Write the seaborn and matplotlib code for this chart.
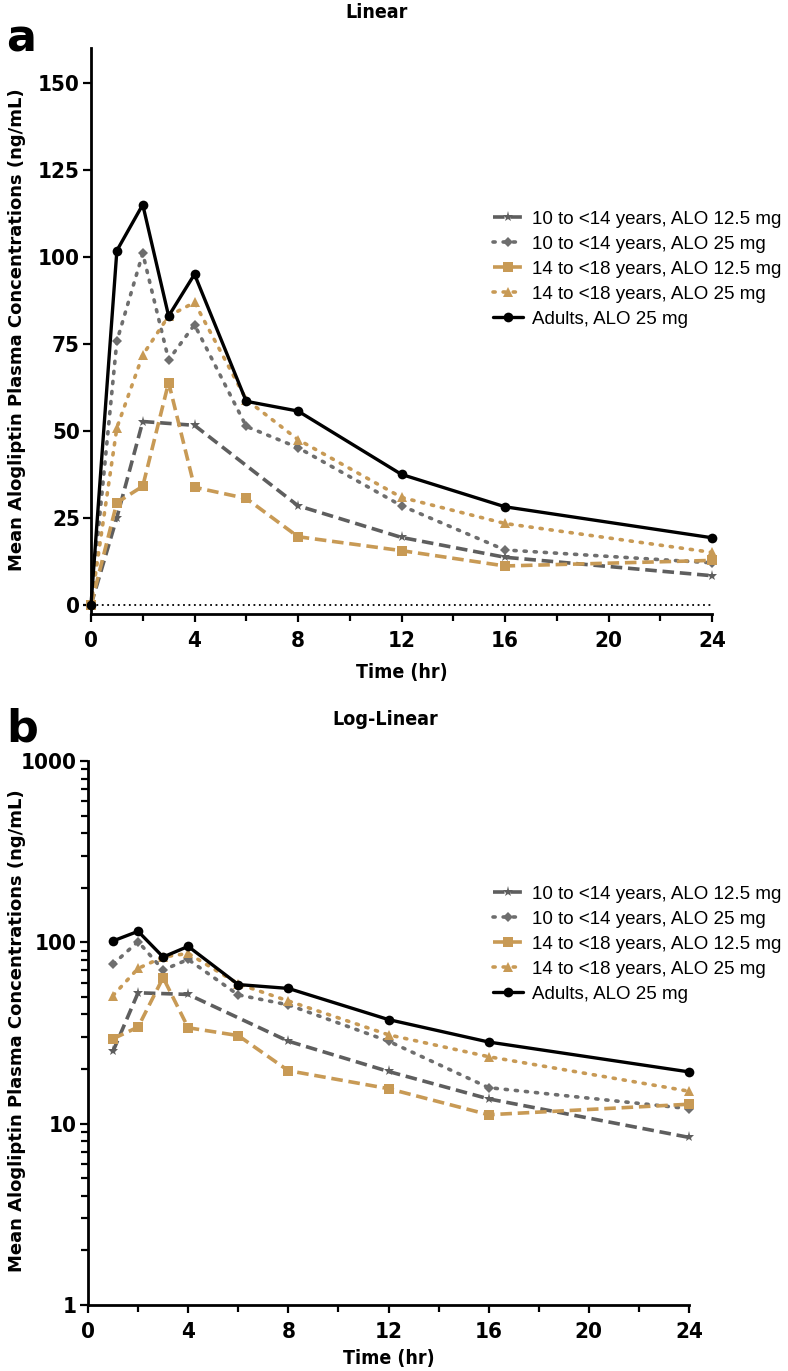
import numpy as np
import pandas as pd
import matplotlib
matplotlib.use("Agg")
import matplotlib.pyplot as plt
import seaborn as sns
from matplotlib.ticker import MultipleLocator, FixedLocator, LogLocator, NullFormatter

# Time points (hr)
times = [0, 1, 2, 3, 4, 6, 8, 12, 16, 24]
times_star = [0, 1, 2, 4, 8, 12, 16, 24]

# Mean alogliptin plasma concentrations (ng/mL)
kids10_12 = [0, 25.1, 52.7, 51.6, 28.5, 19.4, 13.7, 8.4]
kids10_25 = [0, 75.8, 101.0, 70.4, 80.5, 51.3, 45.2, 28.5, 15.8, 12.1]
kids14_12 = [0, 29.4, 34.1, 63.9, 33.8, 30.6, 19.6, 15.6, 11.2, 12.8]
kids14_25 = [0, 50.9, 71.8, 83.0, 86.9, 59.0, 47.5, 30.9, 23.4, 15.1]
adults_25 = [0, 101.8, 115.0, 83.0, 95.0, 58.5, 55.7, 37.5, 28.2, 19.3]

labels = ["10 to <14 years, ALO 12.5 mg", "10 to <14 years, ALO 25 mg",
          "14 to <18 years, ALO 12.5 mg", "14 to <18 years, ALO 25 mg",
          "Adults, ALO 25 mg"]

GRAY = "#5e5e5e"
GRAY2 = "#6e6e6e"
TAN = "#c89a55"

series = [
    (times_star, kids10_12, labels[0], GRAY, (0, (3.2, 1.6)), "*", 8),
    (times, kids10_25, labels[1], GRAY2, (0, (0.6, 2.2)), "D", 5.5),
    (times, kids14_12, labels[2], TAN, (0, (3.2, 1.6)), "s", 7),
    (times, kids14_25, labels[3], TAN, (0, (0.6, 2.2)), "^", 7),
    (times, adults_25, labels[4], "black", "-", "o", 7),
]

sns.set_style("ticks")
plt.rcParams["font.family"] = ["DejaVu Sans"]
for k in ["text.color", "axes.labelcolor", "xtick.color", "ytick.color", "axes.edgecolor"]:
    plt.rcParams[k] = "black"

fig = plt.figure(figsize=(7.88, 13.71), dpi=100)
ax1 = fig.add_axes([91 / 788, 1 - 614 / 1371, (712 - 91) / 788, (614 - 48) / 1371])
ax2 = fig.add_axes([88 / 788, 1 - 1305 / 1371, (689 - 88) / 788, (1305 - 761) / 1371])


def style_ticks(ax):
    for lab in ax.get_xticklabels() + ax.get_yticklabels():
        lab.set_fontweight("bold")
        lab.set_fontstretch("condensed")
        lab.set_fontsize(16)


def draw(ax, log=False, xpad=5):
    for t, v, lab, col, ls, mk, ms in series:
        df = pd.DataFrame({"Time": t, "Conc": v})
        if log:
            df = df[df["Time"] > 0]
        sns.lineplot(data=df, x="Time", y="Conc", ax=ax, color=col, linestyle=ls,
                     linewidth=2.6 if ls != "-" else 2.4, marker=mk, markersize=ms,
                     markeredgewidth=0, markerfacecolor=col, label=lab, clip_on=False,
                     dash_capstyle="round" if ls != "-" and ls[1][0] < 1 else "butt")
    ax.set_xlim(0, 24)
    ax.xaxis.set_major_locator(MultipleLocator(4))
    ax.xaxis.set_minor_locator(MultipleLocator(2))
    for sp in ["top", "right"]:
        ax.spines[sp].set_visible(False)
    for sp in ["left", "bottom"]:
        ax.spines[sp].set_linewidth(2)
    ax.tick_params(which="major", length=6, width=1.6, pad=2)
    ax.tick_params(axis="x", which="major", pad=6)
    ax.tick_params(which="minor", length=5, width=1.6)
    ax.set_xlabel("Time (hr)", fontsize=14, fontweight="bold", labelpad=xpad,
                  fontstretch="condensed")
    ax.set_ylabel("Mean Alogliptin Plasma Concentrations (ng/mL)", fontsize=13,
                  fontweight="bold")


# Linear panel
draw(ax1, xpad=9)
ax1.axhline(0, color="black", linestyle=(0, (1, 2)), linewidth=1.3, zorder=0)
ax1.set_ylim(-2.6, 160)
ax1.set_yticks([0, 25, 50, 75, 100, 125, 150])
ax1.yaxis.set_minor_locator(FixedLocator([]))
style_ticks(ax1)
fig.text(377 / 788, 1 - 13 / 1371, "Linear", fontsize=14, fontweight="bold",
         fontstretch="condensed", ha="center", va="center")
ax1.yaxis.set_label_coords(26 / 788, 1 - 330 / 1371, transform=fig.transFigure)

# Log-linear panel
draw(ax2, log=True, xpad=5)
ax2.set_yscale("log")
ax2.set_ylim(1, 1000)
ax2.set_yticks([1, 10, 100, 1000])
ax2.set_yticklabels(["1", "10", "100", "1000"])
ax2.yaxis.set_minor_locator(LogLocator(base=10, subs=np.arange(2, 10)))
ax2.yaxis.set_minor_formatter(NullFormatter())
style_ticks(ax2)
fig.text(385 / 788, 1 - 720 / 1371, "Log-Linear", fontsize=14, fontweight="bold",
         fontstretch="condensed", ha="center", va="center")
ax2.yaxis.set_label_coords(26 / 788, 1 - 1031 / 1371, transform=fig.transFigure)

for ax, top in [(ax1, 194), (ax2, 869)]:
    ax.legend(loc="upper left", bbox_to_anchor=(476 / 788, 1 - top / 1371),
              bbox_transform=fig.transFigure, frameon=False,
              handlelength=1.6, handletextpad=0.5, labelspacing=0.42,
              prop={"family": "Liberation Sans", "size": 13.5})

fig.text(6 / 788, 1 - 52 / 1371, "a", fontsize=32, fontweight="bold", va="baseline")
fig.text(6 / 788, 1 - 742 / 1371, "b", fontsize=32, fontweight="bold", va="baseline")

fig.savefig("out.png", dpi=100)
